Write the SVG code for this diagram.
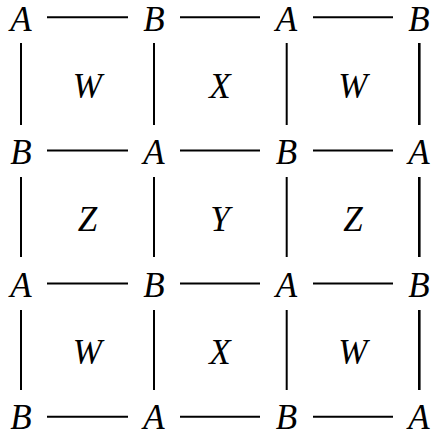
<svg xmlns="http://www.w3.org/2000/svg" width="437" height="436" viewBox="0 0 437 436">
<style>
text{font-style:italic;font-size:35px;text-anchor:middle;fill:#000}
line{stroke:#000;stroke-width:2}
.r{stroke-width:2.6}
</style>
<rect width="437" height="436" fill="#fff"/>
<g id="connectors">
<line x1="47" y1="17.3" x2="128" y2="17.3"/>
<line x1="180" y1="17.3" x2="260" y2="17.3"/>
<line x1="313" y1="17.3" x2="393" y2="17.3"/>
<line x1="47" y1="150.4" x2="128" y2="150.4"/>
<line x1="180" y1="150.4" x2="260" y2="150.4"/>
<line x1="313" y1="150.4" x2="393" y2="150.4"/>
<line x1="47" y1="283.5" x2="128" y2="283.5"/>
<line x1="180" y1="283.5" x2="260" y2="283.5"/>
<line x1="313" y1="283.5" x2="393" y2="283.5"/>
<line x1="47" y1="416.7" x2="128" y2="416.7"/>
<line x1="180" y1="416.7" x2="260" y2="416.7"/>
<line x1="313" y1="416.7" x2="393" y2="416.7"/>
<line x1="21" y1="43" x2="21" y2="125"/>
<line x1="154" y1="43" x2="154" y2="125"/>
<line x1="286.7" y1="43" x2="286.7" y2="125"/>
<line class="r" x1="419.3" y1="43" x2="419.3" y2="125"/>
<line x1="21" y1="177" x2="21" y2="257"/>
<line x1="154" y1="177" x2="154" y2="257"/>
<line x1="286.7" y1="177" x2="286.7" y2="257"/>
<line class="r" x1="419.3" y1="177" x2="419.3" y2="257"/>
<line x1="21" y1="310" x2="21" y2="390"/>
<line x1="154" y1="310" x2="154" y2="390"/>
<line x1="286.7" y1="310" x2="286.7" y2="390"/>
<line class="r" x1="419.3" y1="310" x2="419.3" y2="390"/>
</g>
<g font-family="Liberation Serif, serif">
<g id="n11"><text x="21" y="30.5">A</text></g>
<g id="n12"><text x="154" y="30.5">B</text></g>
<g id="n13"><text x="286.5" y="30.5">A</text></g>
<g id="n14"><text x="419" y="30.5">B</text></g>
<g id="n21"><text x="21" y="163.6">B</text></g>
<g id="n22"><text x="154" y="163.6">A</text></g>
<g id="n23"><text x="286.5" y="163.6">B</text></g>
<g id="n24"><text x="419" y="163.6">A</text></g>
<g id="n31"><text x="21" y="296.7">A</text></g>
<g id="n32"><text x="154" y="296.7">B</text></g>
<g id="n33"><text x="286.5" y="296.7">A</text></g>
<g id="n34"><text x="419" y="296.7">B</text></g>
<g id="n41"><text x="21" y="428.5">B</text></g>
<g id="n42"><text x="154" y="428.5">A</text></g>
<g id="n43"><text x="286.5" y="428.5">B</text></g>
<g id="n44"><text x="419" y="428.5">A</text></g>
<g id="f11"><text x="87.4" y="97.5">W</text></g>
<g id="f12"><text x="220" y="97.5">X</text></g>
<g id="f13"><text x="352.9" y="97.5">W</text></g>
<g id="f21"><text x="87.4" y="230.5">Z</text></g>
<g id="f22"><text x="220" y="230.5">Y</text></g>
<g id="f23"><text x="352.9" y="230.5">Z</text></g>
<g id="f31"><text x="87.4" y="363.6">W</text></g>
<g id="f32"><text x="220" y="363.6">X</text></g>
<g id="f33"><text x="352.9" y="363.6">W</text></g>
</g>
</svg>
